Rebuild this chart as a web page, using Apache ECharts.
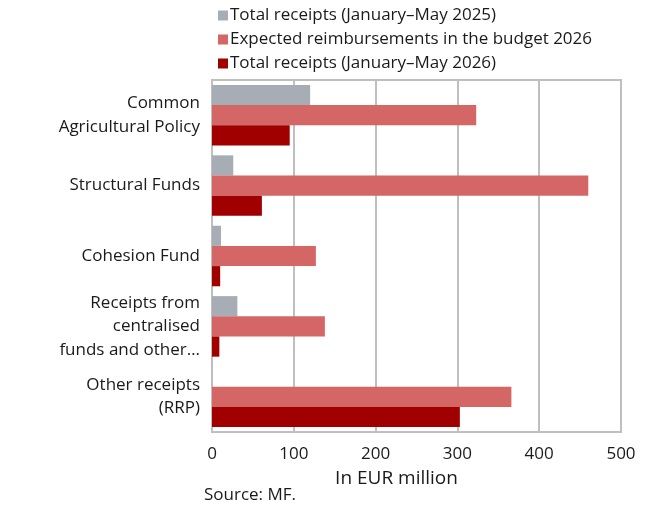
<!DOCTYPE html>
<html>
<head>
<meta charset="utf-8">
<script src="https://cdn.jsdelivr.net/npm/echarts@6/dist/echarts.min.js"></script>
<style>
    html, body { margin: 0; padding: 0; background: #fff; }
    #main { width: 650px; height: 505px; }
</style>
</head>
<body>
<div id="main"></div>
<script>
// categories, top to bottom
var categories = [
    'Common\nAgricultural Policy',
    'Structural Funds',
    'Cohesion Fund',
    'Receipts from\ncentralised\nfunds and other…',
    'Other receipts\n(RRP)'
];
var seriesNames = [
    'Total receipts (January–May 2025)',
    'Expected reimbursements in the budget 2026',
    'Total receipts (January–May 2026)'
];
var receipts2025 = [120, 26, 11, 31, 0];
var expected2026 = [323, 460, 127, 138, 366];
var receipts2026 = [95, 61, 10, 9, 303];
var xTicks = [0, 100, 200, 300, 400, 500];

var colors = ['#A6ADB4', '#D46666', '#A00000'];
var font = 'Open Sans';

var myChart = echarts.init(document.getElementById('main'));
var option = {
    animation: false,
    textStyle: { fontFamily: font },
    legend: {
        orient: 'vertical',
        left: 213,
        top: 2,
        icon: 'rect',
        itemWidth: 10,
        itemHeight: 10,
        itemGap: 7,
        textStyle: { fontSize: 17, color: '#1a1a1a', padding: [0, 0, 0, -3] },
        data: seriesNames
    },
    grid: {
        left: 212,
        right: 29,
        top: 80,
        bottom: 73,
        show: true,
        borderColor: '#BFBFBF',
        borderWidth: 2,
        containLabel: false
    },
    xAxis: {
        type: 'value',
        min: xTicks[0],
        max: xTicks[xTicks.length - 1],
        interval: 100,
        name: 'In EUR million',
        nameLocation: 'middle',
        nameGap: 37,
        nameTextStyle: { fontSize: 19, color: '#1a1a1a', padding: [0, 40, 0, 0] },
        axisLine: { show: false },
        axisTick: { show: false },
        axisLabel: { fontSize: 17, color: '#1a1a1a', margin: 14 },
        splitLine: { lineStyle: { color: '#BFBFBF', width: 2 } }
    },
    yAxis: {
        type: 'category',
        inverse: true,
        data: categories,
        axisLine: { lineStyle: { color: '#BFBFBF', width: 2 } },
        axisTick: { show: false },
        axisLabel: { fontSize: 17, color: '#1a1a1a', margin: 12, lineHeight: 23.5 }
    },
    graphic: [{
        type: 'text',
        left: 204,
        top: 487,
        style: { text: 'Source: MF.', fontSize: 17, fill: '#1a1a1a', fontFamily: font }
    }],
    series: [
        { name: seriesNames[0], type: 'bar', data: receipts2025, itemStyle: { color: colors[0] }, barGap: '0%', barCategoryGap: '14%' },
        { name: seriesNames[1], type: 'bar', data: expected2026, itemStyle: { color: colors[1] }, barGap: '0%', barCategoryGap: '14%' },
        { name: seriesNames[2], type: 'bar', data: receipts2026, itemStyle: { color: colors[2] }, barGap: '0%', barCategoryGap: '14%' }
    ]
};
myChart.setOption(option);
</script>
</body>
</html>
